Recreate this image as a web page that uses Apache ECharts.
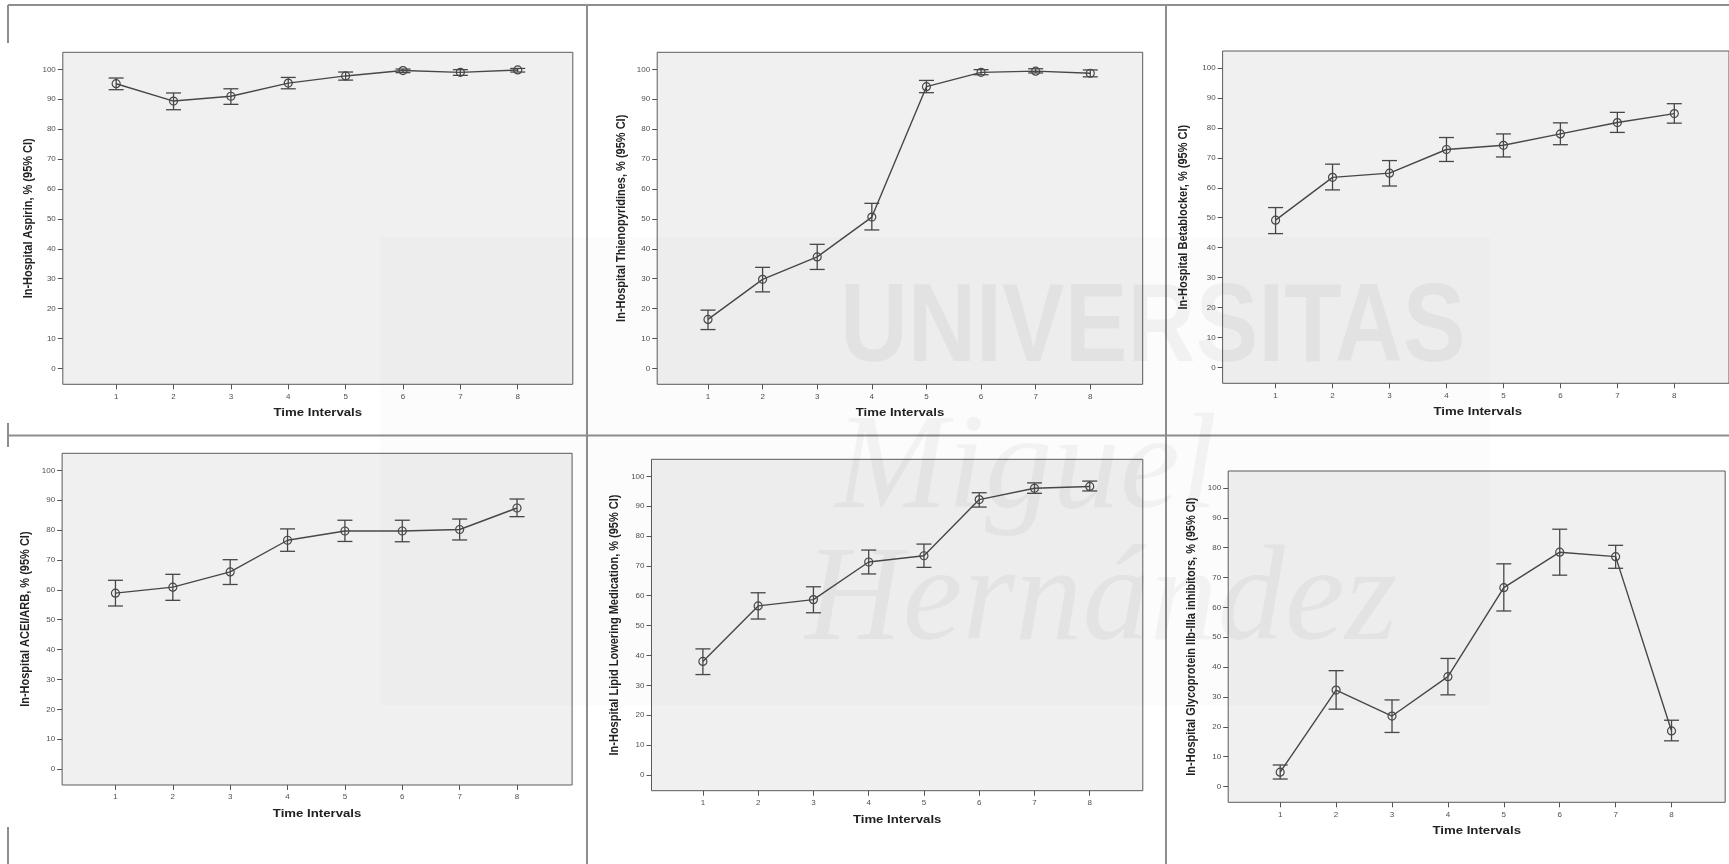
<!DOCTYPE html>
<html>
<head>
<meta charset="utf-8">
<script src="https://cdn.jsdelivr.net/npm/echarts@6/dist/echarts.min.js"></script>
<style>
html,body{margin:0;padding:0;background:#fff;}
#chart{width:1729px;height:864px;}
</style>
</head>
<body>
<div id="chart"></div>
<script>
// ---------- DATA ----------
const timeIntervals = [1, 2, 3, 4, 5, 6, 7, 8];
const yTickValues = [0, 10, 20, 30, 40, 50, 60, 70, 80, 90, 100];
const xTitle = 'Time Intervals';

const aspirinTitle = 'In-Hospital Aspirin, % (95% CI)';
const aspirinMean = [95.2, 89.4, 91.0, 95.4, 97.8, 99.6, 99.0, 99.8];
const aspirinLow  = [93.2, 86.5, 88.3, 93.5, 96.4, 98.9, 98.0, 99.1];
const aspirinHigh = [97.1, 92.1, 93.5, 97.3, 99.1, 100.1, 99.9, 100.3];

const thienoTitle = 'In-Hospital Thienopyridines, % (95% CI)';
const thienoMean = [16.4, 29.8, 37.3, 50.6, 94.2, 99.0, 99.4, 98.7];
const thienoLow  = [13.0, 25.6, 33.1, 46.3, 92.2, 98.2, 98.8, 97.5];
const thienoHigh = [19.5, 33.8, 41.5, 55.2, 96.3, 99.9, 100.2, 99.8];

const betaTitle = 'In-Hospital Betablocker, % (95% CI)';
const betaMean = [49.2, 63.5, 64.9, 72.8, 74.2, 78.0, 81.8, 84.8];
const betaLow  = [44.7, 59.3, 60.6, 68.8, 70.3, 74.4, 78.5, 81.6];
const betaHigh = [53.4, 67.9, 69.1, 76.8, 78.0, 81.7, 85.2, 88.1];

const aceTitle = 'In-Hospital ACEI/ARB, % (95% CI)';
const aceMean = [58.9, 60.9, 66.0, 76.6, 79.7, 79.7, 80.2, 87.4];
const aceLow  = [54.6, 56.5, 61.8, 72.9, 76.2, 76.1, 76.7, 84.5];
const aceHigh = [63.2, 65.2, 70.1, 80.4, 83.3, 83.3, 83.7, 90.4];

const lipidTitle = 'In-Hospital Lipid Lowering Medication, % (95% CI)';
const lipidMean = [38.0, 56.6, 58.7, 71.3, 73.4, 92.2, 96.0, 96.6];
const lipidLow  = [33.6, 52.2, 54.3, 67.3, 69.5, 89.7, 94.3, 95.1];
const lipidHigh = [42.2, 61.0, 63.0, 75.3, 77.3, 94.5, 97.8, 98.4];

const gpTitle = 'In-Hospital Glycoprotein IIb-IIIa inhibitors, % (95% CI)';
const gpMean = [4.8, 32.3, 23.6, 36.8, 66.6, 78.5, 77.0, 18.6];
const gpLow  = [2.5, 25.9, 18.1, 30.7, 58.8, 70.8, 73.1, 15.3];
const gpHigh = [7.2, 38.8, 29.0, 42.9, 74.6, 86.2, 80.8, 22.2];

// ---------- LAYOUT ----------
const X_MIN = 0.07, X_MAX = 8.96;
const Y_MIN = -5.3, Y_MAX = 105.7;
const panels = [
  {title: aspirinTitle, mean: aspirinMean, low: aspirinLow, high: aspirinHigh, box: [62.8, 52.3, 510, 332], ytx: 28},
  {title: thienoTitle,  mean: thienoMean,  low: thienoLow,  high: thienoHigh,  box: [657.2, 52.3, 485.5, 332], ytx: 621.4},
  {title: betaTitle,    mean: betaMean,    low: betaLow,    high: betaHigh,    box: [1222.6, 51, 510.3, 332.3], ytx: 1183.5},
  {title: aceTitle,     mean: aceMean,     low: aceLow,     high: aceHigh,     box: [62.1, 453.3, 510, 331.7], ytx: 25},
  {title: lipidTitle,   mean: lipidMean,   low: lipidLow,   high: lipidHigh,   box: [651.5, 459.3, 491.3, 331.4], ytx: 614},
  {title: gpTitle,      mean: gpMean,      low: gpLow,      high: gpHigh,      box: [1228.2, 471, 497, 331.3], ytx: 1191}
];

const FONT = 'Liberation Sans, Arial, sans-serif';
const LINE_COLOR = '#474747';
const STRETCH = 1.2;

function errorBarRender(params, api) {
  const x = api.value(0);
  const pLo = api.coord([x, api.value(1)]);
  const pHi = api.coord([x, api.value(2)]);
  const hw = 7.5;
  const st = {stroke: LINE_COLOR, lineWidth: 1.3};
  return {
    type: 'group',
    children: [
      {type: 'line', shape: {x1: pLo[0], y1: pLo[1], x2: pHi[0], y2: pHi[1]}, style: st},
      {type: 'line', shape: {x1: pHi[0] - hw, y1: pHi[1], x2: pHi[0] + hw, y2: pHi[1]}, style: st},
      {type: 'line', shape: {x1: pLo[0] - hw, y1: pLo[1], x2: pLo[0] + hw, y2: pLo[1]}, style: st}
    ]
  };
}

const grids = [], xAxes = [], yAxes = [], series = [], graphics = [];

// table borders
const borderStyle = {stroke: '#8e8e8e', lineWidth: 2};
[
  [8, 5, 1729, 5], [8, 435.5, 1729, 435.5],
  [587, 5, 587, 864], [1166, 5, 1166, 864],
  [8, 5, 8, 43], [8, 423, 8, 447], [8, 827, 8, 864]
].forEach(s => graphics.push({type: 'line', z: 1, silent: true,
  shape: {x1: s[0], y1: s[1], x2: s[2], y2: s[3]}, style: borderStyle}));

panels.forEach((p, i) => {
  const [l, t, w, h] = p.box;
  grids.push({left: l, top: t, width: w, height: h, show: true,
    backgroundColor: '#f0f0f0', borderColor: '#5c5c5c', borderWidth: 1, containLabel: false});
  xAxes.push({type: 'value', gridIndex: i, min: X_MIN, max: X_MAX, position: 'bottom',
    axisLine: {show: false, onZero: false}, splitLine: {show: false},
    axisTick: {show: true, inside: false, length: 5, customValues: timeIntervals, lineStyle: {color: '#555'}},
    axisLabel: {customValues: timeIntervals, fontSize: 8, color: '#505050', margin: 8, fontFamily: FONT}});
  yAxes.push({type: 'value', gridIndex: i, min: Y_MIN, max: Y_MAX, position: 'left',
    axisLine: {show: false, onZero: false}, splitLine: {show: false},
    axisTick: {show: true, inside: false, length: 5, customValues: yTickValues, lineStyle: {color: '#555'}},
    axisLabel: {customValues: yTickValues, fontSize: 8, color: '#505050', margin: 7, fontFamily: FONT}});
  series.push({type: 'line', xAxisIndex: i, yAxisIndex: i, z: 3, silent: true,
    data: timeIntervals.map((c, k) => [c, p.mean[k]]),
    symbol: 'circle', symbolSize: 8,
    lineStyle: {color: LINE_COLOR, width: 1.4},
    itemStyle: {color: 'rgba(0,0,0,0)', borderColor: LINE_COLOR, borderWidth: 1.2}});
  series.push({type: 'custom', xAxisIndex: i, yAxisIndex: i, z: 4, silent: true,
    data: timeIntervals.map((c, k) => [c, p.low[k], p.high[k]]),
    encode: {x: 0, y: [1, 2]}, renderItem: errorBarRender});
  // axis titles
  graphics.push({type: 'text', z: 5, silent: true, x: l + w / 2, y: t + h + 29, scaleX: STRETCH,
    style: {text: xTitle, font: 'bold 11px ' + FONT, fill: '#222', align: 'center', verticalAlign: 'middle'}});
  graphics.push({type: 'text', z: 5, silent: true, x: p.ytx, y: t + h / 2, rotation: Math.PI / 2, scaleY: STRETCH,
    style: {text: p.title, font: 'bold 11px ' + FONT, fill: '#222', align: 'center', verticalAlign: 'middle'}});
});

// faint watermark
graphics.push({type: 'rect', z: 1, silent: true, shape: {x: 380, y: 237, width: 1110, height: 468},
  style: {fill: 'rgba(0,0,0,0.013)'}});
graphics.push({type: 'text', z: 1, silent: true, x: 840, y: 330, scaleX: 0.84,
  style: {text: 'UNIVERSITAS', font: 'bold 112px Liberation Sans, Arial, sans-serif', fill: 'rgba(0,0,0,0.045)', align: 'left', verticalAlign: 'middle'}});
graphics.push({type: 'text', z: 1, silent: true, x: 835, y: 472,
  style: {text: 'Miguel', font: 'italic 135px Liberation Serif, Times New Roman, serif', fill: 'rgba(0,0,0,0.04)', align: 'left', verticalAlign: 'middle'}});
graphics.push({type: 'text', z: 1, silent: true, x: 805, y: 604,
  style: {text: 'Hernández', font: 'italic 135px Liberation Serif, Times New Roman, serif', fill: 'rgba(0,0,0,0.04)', align: 'left', verticalAlign: 'middle'}});

const chart = echarts.init(document.getElementById('chart'), null, {renderer: 'canvas'});
chart.setOption({
  animation: false,
  backgroundColor: '#ffffff',
  grid: grids,
  xAxis: xAxes,
  yAxis: yAxes,
  series: series,
  graphic: {elements: graphics}
});
</script>
</body>
</html>
